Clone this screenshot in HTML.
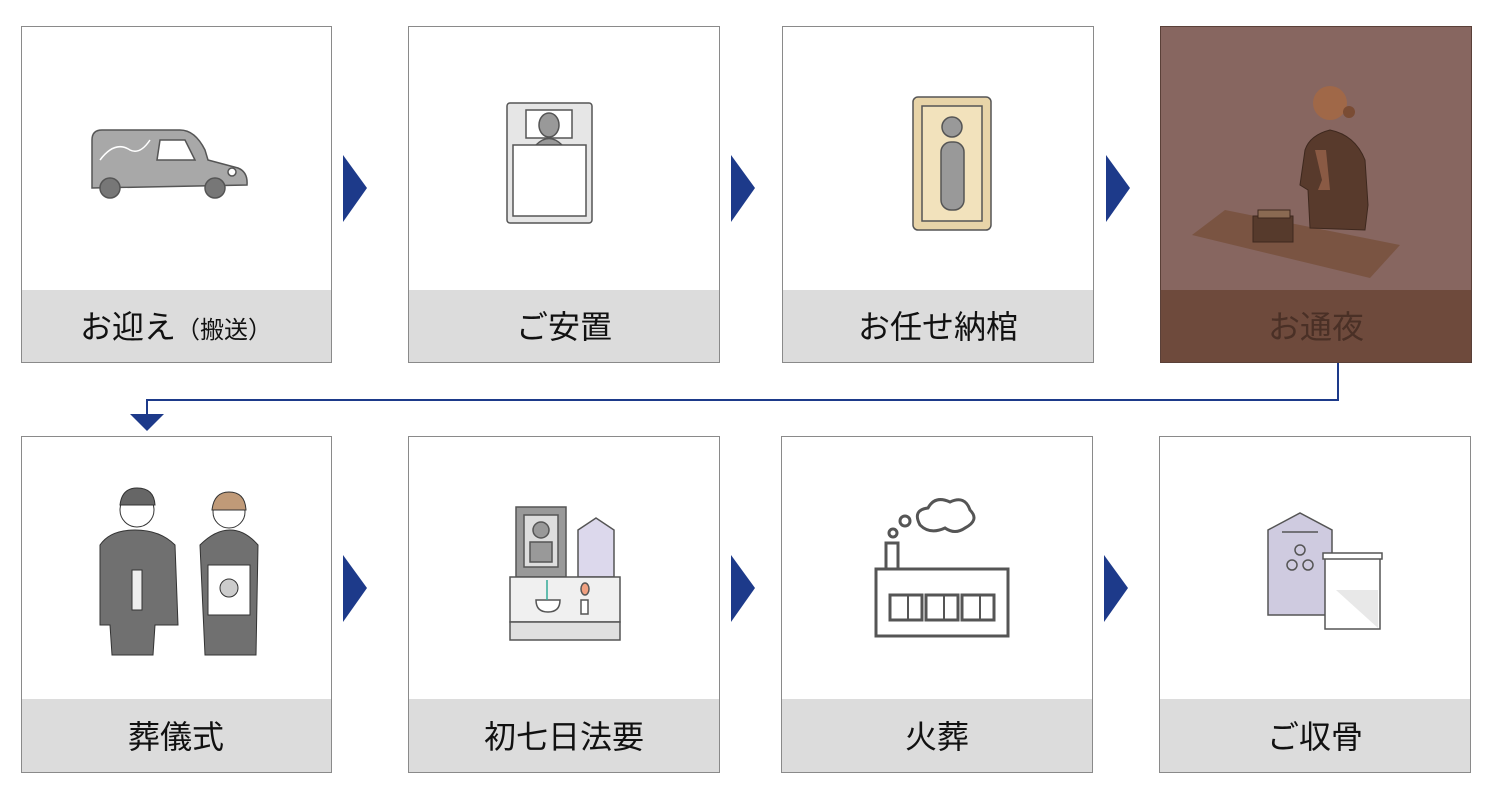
<!DOCTYPE html>
<html><head><meta charset="utf-8"><style>
html,body{margin:0;padding:0;background:#fff;width:1500px;height:800px;overflow:hidden}
text{font-family:"Liberation Sans","Noto Sans CJK JP",sans-serif;font-weight:normal}
</style></head><body>
<svg width="1500" height="800" viewBox="0 0 1500 800" xmlns="http://www.w3.org/2000/svg">
<g fill="#fff" stroke="#8a8a8a" stroke-width="1">
<rect x="21.5" y="26.5" width="310" height="336"/>
<rect x="408.5" y="26.5" width="311" height="336"/>
<rect x="782.5" y="26.5" width="311" height="336"/>
<rect x="21.5" y="436.5" width="310" height="336"/>
<rect x="408.5" y="436.5" width="311" height="336"/>
<rect x="781.5" y="436.5" width="311" height="336"/>
<rect x="1159.5" y="436.5" width="311" height="336"/>
</g>
<g fill="#dcdcdc">
<rect x="22" y="290" width="309" height="72"/>
<rect x="409" y="290" width="310" height="72"/>
<rect x="783" y="290" width="310" height="72"/>
<rect x="22" y="699" width="309" height="73"/>
<rect x="409" y="699" width="310" height="73"/>
<rect x="782" y="699" width="310" height="73"/>
<rect x="1160" y="699" width="310" height="73"/>
</g>
<rect x="1160.5" y="26.5" width="311" height="336" fill="#876660" stroke="#5a4038"/>
<rect x="1161" y="290" width="310" height="72" fill="#6e4a3c"/>
<g font-size="32" text-anchor="middle" fill="#111">
<text x="176" y="338">お迎え<tspan font-size="24">（搬送）</tspan></text>
<text x="564" y="338">ご安置</text>
<text x="938" y="338">お任せ納棺</text>
<text x="1316" y="338" fill="#4a3026">お通夜</text>
<text x="176" y="748">葬儀式</text>
<text x="564" y="748">初七日法要</text>
<text x="937" y="748">火葬</text>
<text x="1315" y="748">ご収骨</text>
</g>
<g fill="#1d3a8a">
<polygon points="343,155 367,188 343,222"/>
<polygon points="731,155 755,188 731,222"/>
<polygon points="1106,155 1130,188 1106,222"/>
<polygon points="343,555 367,588 343,622"/>
<polygon points="731,555 755,588 731,622"/>
<polygon points="1104,555 1128,588 1104,622"/>
<polygon points="130,414 164,414 147,431"/>
</g>
<polyline points="1338,363 1338,400 147,400 147,415" fill="none" stroke="#1d3a8a" stroke-width="2"/>
<!-- hearse -->
<g stroke="#555" stroke-width="1.5">
<path d="M92,140 Q92,130 102,130 L180,130 Q195,130 205,150 L208,160 L238,168 Q248,172 247,185 L92,188 Z" fill="#a8a8a8"/>
<path d="M160,140 L185,140 L195,160 L157,160 Z" fill="#fff"/>
<circle cx="110" cy="188" r="10" fill="#777"/><circle cx="215" cy="188" r="10" fill="#777"/>
<circle cx="232" cy="172" r="4" fill="#fff"/>
<path d="M100,160 Q115,140 130,150 Q140,155 150,140" fill="none" stroke="#fff"/>
</g>
<!-- futon -->
<g stroke="#555" stroke-width="1.5">
<rect x="507" y="103" width="85" height="120" rx="3" fill="#e6e6e6"/>
<rect x="526" y="110" width="46" height="28" fill="#fff"/>
<ellipse cx="549" cy="125" rx="10" ry="12" fill="#999"/>
<path d="M536,145 Q549,132 562,145 Z" fill="#999"/>
<rect x="513" y="145" width="73" height="71" fill="#fff"/>
</g>
<!-- coffin -->
<g stroke="#555" stroke-width="1.5">
<rect x="913" y="97" width="78" height="133" rx="5" fill="#e8d4a8"/>
<rect x="922" y="106" width="60" height="115" fill="#f2e2bc"/>
<circle cx="952" cy="127" r="10" fill="#999"/>
<rect x="941" y="142" width="23" height="68" rx="10" fill="#999"/>
</g>
<!-- tsuya figure -->
<path d="M1192,235 L1225,210 L1400,245 L1370,278 Z" fill="#7a5442"/>
<path d="M1305,150 Q1310,135 1330,130 Q1355,135 1365,160 L1368,205 L1365,230 L1310,228 L1308,190 L1300,185 Z" fill="#583a2c" stroke="#3e281e"/>
<rect x="1253" y="216" width="40" height="26" fill="#563a2c" stroke="#3e281e"/>
<rect x="1258" y="210" width="32" height="8" fill="#8a6a52" stroke="#3e281e"/>
<circle cx="1330" cy="103" r="17" fill="#a06848"/>
<circle cx="1349" cy="112" r="6" fill="#7a4c34"/>
<path d="M1315,150 L1322,180 L1318,190 L1330,190 L1326,150 Z" fill="#8a5a44"/>
<!-- funeral figures -->
<g stroke="#333" stroke-width="1">
<path d="M100,545 Q110,530 135,530 Q160,530 175,545 L178,625 L155,625 L153,655 L112,655 L110,625 L100,625 Z" fill="#707070"/>
<circle cx="137" cy="510" r="17" fill="#fff"/>
<path d="M120,505 Q122,488 137,488 Q154,488 155,505 Z" fill="#666"/>
<rect x="132" y="570" width="10" height="40" fill="#eee"/>
<path d="M200,545 Q215,530 230,530 Q245,530 258,545 L256,655 L205,655 Z" fill="#707070"/>
<circle cx="229" cy="512" r="16" fill="#fff"/>
<path d="M212,510 Q214,492 229,492 Q245,492 246,510 Z" fill="#c09a78"/>
<rect x="208" y="565" width="42" height="50" fill="#fff"/>
<circle cx="229" cy="588" r="9" fill="#ccc"/>
</g>
<!-- altar -->
<g stroke="#555" stroke-width="1.5">
<rect x="516" y="507" width="50" height="70" fill="#999"/>
<rect x="524" y="515" width="34" height="52" fill="#ddd"/>
<circle cx="541" cy="530" r="8" fill="#999"/><rect x="530" y="542" width="22" height="20" fill="#999"/>
<path d="M578,530 L596,518 L614,530 L614,577 L578,577 Z" fill="#dcd8ec"/>
<rect x="510" y="577" width="110" height="45" fill="#f0f0f0"/>
<rect x="510" y="622" width="110" height="18" fill="#e0e0e0"/>
<path d="M536,600 L560,600 Q560,612 548,612 Q536,612 536,600 Z" fill="#fff"/>
<ellipse cx="585" cy="589" rx="4" ry="6" fill="#f0a080"/>
<rect x="581" y="600" width="7" height="14" fill="#fff"/>
</g>
<line x1="547" y1="580" x2="547" y2="600" stroke="#3a9" stroke-width="1.5"/>
<!-- crematorium -->
<g stroke="#555" stroke-width="3" fill="#fff">
<rect x="876" y="569" width="132" height="67"/>
<rect x="886" y="543" width="12" height="26"/>
<rect x="890" y="595" width="32" height="25"/><rect x="926" y="595" width="32" height="25"/><rect x="962" y="595" width="32" height="25"/>
<circle cx="893" cy="533" r="4"/><circle cx="905" cy="521" r="5"/>
<path d="M920,525 Q912,510 928,508 Q935,495 950,502 Q965,495 970,510 Q980,520 965,528 Q955,535 945,528 Q930,535 920,525 Z"/>
</g>
<line x1="908" y1="595" x2="908" y2="620" stroke="#555" stroke-width="2"/>
<line x1="944" y1="595" x2="944" y2="620" stroke="#555" stroke-width="2"/>
<line x1="980" y1="595" x2="980" y2="620" stroke="#555" stroke-width="2"/>
<!-- bones -->
<g stroke="#555" stroke-width="1.5">
<path d="M1268,530 L1300,513 L1332,530 L1332,615 L1268,615 Z" fill="#cfcbe0"/>
<line x1="1282" y1="532" x2="1318" y2="532"/>
<circle cx="1300" cy="550" r="5" fill="none"/><circle cx="1292" cy="565" r="5" fill="none"/><circle cx="1308" cy="565" r="5" fill="none"/>
<rect x="1325" y="557" width="55" height="72" fill="#fff"/>
<path d="M1336,590 L1378,628 L1378,590 Z" fill="#e8e8e8" stroke="none"/>
<rect x="1323" y="553" width="59" height="6" fill="#fff"/>
</g>
</svg>
</body></html>
